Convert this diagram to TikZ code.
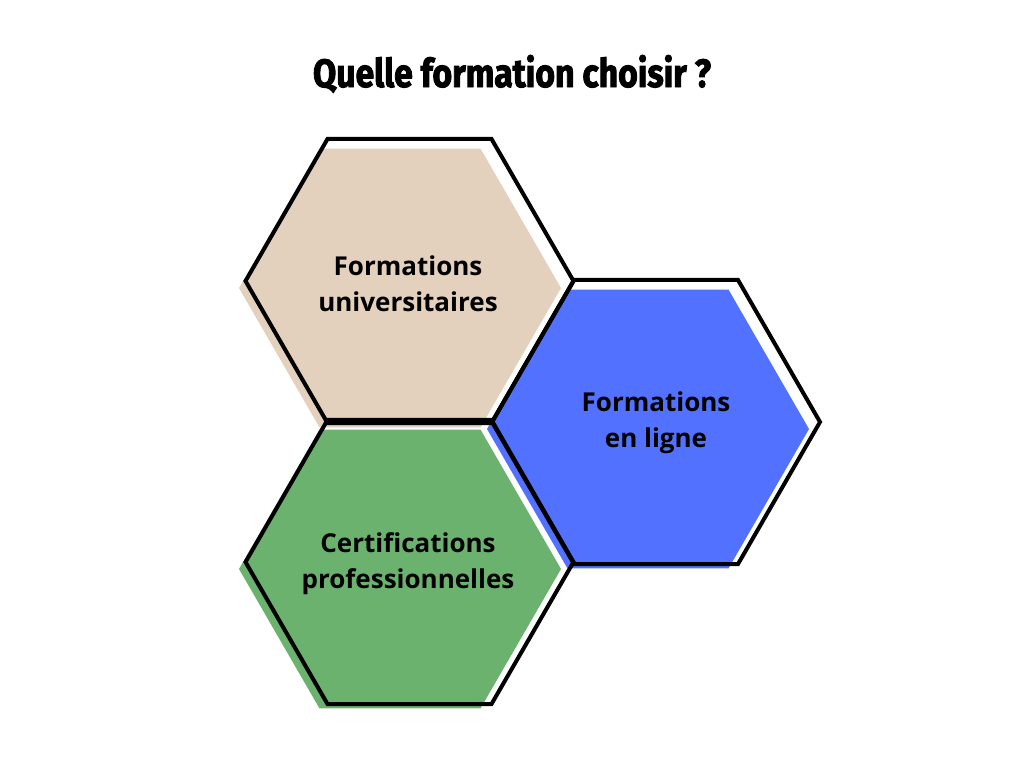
\documentclass[tikz,border=0pt]{standalone}
\usepackage{fontspec}
\usetikzlibrary{shapes.geometric}
\setmainfont{Open Sans}
\newfontfamily\titlefont{Fira Sans}[FakeBold=2.5]
\definecolor{beigefill}{RGB}{227,209,189}
\definecolor{bluefill}{RGB}{82,113,255}
\definecolor{greenfill}{RGB}{107,178,111}
\tikzset{
  hexfill/.style={regular polygon, regular polygon sides=6, minimum size=322pt, inner sep=0pt, outer sep=0pt, draw=none},
  hexline/.style={regular polygon, regular polygon sides=6, minimum size=328pt, inner sep=0pt, outer sep=0pt, draw=black, line width=4pt, line join=miter},
  hexlabel/.style={align=center, font=\fontsize{26}{36}\selectfont\bfseries, text=black}
}
\begin{document}
\begin{tikzpicture}[x=1pt,y=-1pt]
\useasboundingbox[fill=white] (0,0) rectangle (1024,768);
% fills
\node[hexfill, fill=beigefill] (fa) at (400,288) {};
\node[hexfill, fill=bluefill] (fb) at (648,429) {};
\node[hexfill, fill=greenfill] (fc) at (400,569) {};
% outlines
\node[hexline] (ha) at (409.5,281) {};
\node[hexline] (hb) at (656,422) {};
\node[hexline] (hc) at (409.5,562) {};
% labels
\node[hexlabel] (la) at (408,284) {Formations\\universitaires};
\node[hexlabel] (lb) at (656,423) {Formations\\en ligne};
\node[hexlabel] (lc) at (408,564) {Certifications\\professionnelles};
% title
\node[anchor=base, inner sep=0pt] (title) at (512,87) {\resizebox{398pt}{32pt}{\titlefont\bfseries Quelle formation choisir ?}};
\end{tikzpicture}
\end{document}
